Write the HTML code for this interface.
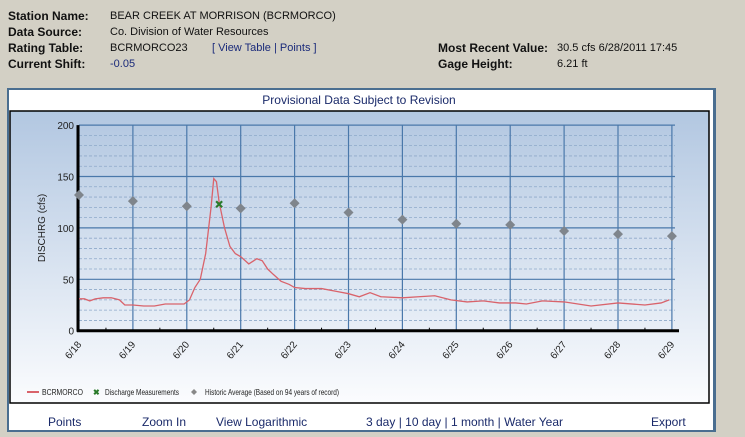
<!DOCTYPE html>
<html><head><meta charset="utf-8"><style>
body{margin:0;width:745px;height:437px;background:#d3d0c5;font-family:"DejaVu Sans","Liberation Sans",sans-serif;overflow:hidden;position:relative}
.t{position:absolute;font-size:11.5px;color:#111;white-space:nowrap}
.b{font-weight:bold;font-family:"Liberation Sans",sans-serif;font-size:12px}
.v{font-family:"Liberation Sans",sans-serif;font-size:11px;top:1px}
a{color:#1a2a7a}
.lk{position:absolute;top:415px;font-family:"Liberation Sans",sans-serif;font-size:12px;color:#1a2a6a}
</style></head><body>
<div class="t b" style="left:8px;top:9px">Station Name:</div>
<div class="t v" style="left:110px;top:10px">BEAR CREEK AT MORRISON (BCRMORCO)</div>
<div class="t b" style="left:8px;top:25px">Data Source:</div>
<div class="t v" style="left:110px;top:26px">Co. Division of Water Resources</div>
<div class="t b" style="left:8px;top:41px">Rating Table:</div>
<div class="t v" style="left:110px;top:42px">BCRMORCO23</div>
<div class="t v" style="left:212px;top:42px;color:#1a2a7a">[ View Table | Points ]</div>
<div class="t b" style="left:8px;top:57px">Current Shift:</div>
<div class="t v" style="left:110px;top:58px"><a>-0.05</a></div>
<div class="t b" style="left:438px;top:41px">Most Recent Value:</div>
<div class="t v" style="left:557px;top:42px">30.5 cfs 6/28/2011 17:45</div>
<div class="t b" style="left:438px;top:57px">Gage Height:</div>
<div class="t v" style="left:557px;top:58px">6.21 ft</div>

<div style="position:absolute;left:7px;top:88px;width:704px;height:340px;background:#fff;border:2px solid #4a6e90;border-right-width:3px"></div>
<div class="t v" style="left:0;width:718px;text-align:center;top:93px;font-size:12px;color:#1a2a6a">Provisional Data Subject to Revision</div>
<svg style="position:absolute;left:0;top:0" width="745" height="437" id="ch">
<defs><linearGradient id="g" x1="0" y1="0" x2="0" y2="1"><stop offset="0" stop-color="#b2c7e1"/><stop offset="1" stop-color="#fbfcfe"/></linearGradient></defs>
<rect x="10" y="111" width="699" height="292" fill="url(#g)" stroke="#000" stroke-width="1.5"/>
<g id="grid"></g><g id="marks"></g>
<text x="0" y="0" transform="translate(45,228) rotate(-90)" text-anchor="middle" font-family="Liberation Sans,sans-serif" font-size="10" fill="#222">DISCHRG (cfs)</text>
<g font-family="Liberation Sans,sans-serif" font-size="8.5" fill="#222">
<line x1="27" y1="392" x2="39" y2="392" stroke="#d9636b" stroke-width="2"/><text x="42" y="395" textLength="41" lengthAdjust="spacingAndGlyphs">BCRMORCO</text>
<text x="93" y="395" fill="#2a7a2a" font-weight="bold" font-size="8">✖</text><text x="105" y="395" textLength="74" lengthAdjust="spacingAndGlyphs">Discharge Measurements</text>
<path d="M194 389 L197 392 L194 395 L191 392Z" fill="#888"/><text x="205" y="395" textLength="134" lengthAdjust="spacingAndGlyphs">Historic Average (Based on 94 years of record)</text>
</g>
</svg>
<div class="lk" style="left:48px">Points</div>
<div class="lk" style="left:142px">Zoom In</div>
<div class="lk" style="left:216px">View Logarithmic</div>
<div class="lk" style="left:366px">3 day | 10 day | 1 month | Water Year</div>
<div class="lk" style="left:651px">Export</div>
<script>
const dayLabels=["6/18","6/19","6/20","6/21","6/22","6/23","6/24","6/25","6/26","6/27","6/28","6/29"];
const yTicks=[0,50,100,150,200];
const histAvg=[132,126,121,119,124,115,108,104,103,97,94,92];
const measDay=[2.6];
const measVal=[123];
const flowDay=[0,0.1,0.2,0.3,0.45,0.6,0.75,0.85,1.0,1.2,1.4,1.6,1.8,1.95,2.05,2.15,2.25,2.35,2.45,2.5,2.55,2.6,2.7,2.8,2.9,3.0,3.15,3.3,3.4,3.5,3.6,3.75,3.9,4.0,4.2,4.5,4.8,5.0,5.2,5.4,5.6,6.0,6.3,6.6,6.9,7.2,7.5,7.8,8.1,8.3,8.6,9.0,9.5,10.0,10.5,10.8,10.95];
const flowVal=[31,31,29,31,32,32,30,25,25,24,24,26,26,26,30,42,50,75,120,148,145,125,100,82,75,72,65,70,68,60,55,48,45,42,41,41,38,36,33,37,33,32,33,34,30,28,29,27,27,26,29,28,24,27,25,27,30];
const X=d=>79+d*53.9, Y=v=>330.7-v*1.028;
const ns="http://www.w3.org/2000/svg";
const grid=document.getElementById('grid'),marks=document.getElementById('marks');
function mk(t,a,p){const e=document.createElementNS(ns,t);for(const k in a)e.setAttribute(k,a[k]);(p||grid).appendChild(e);return e;}
for(let v=10;v<200;v+=10){if(v%50)mk('line',{x1:79,x2:675,y1:Y(v),y2:Y(v),stroke:'#8ea9c9','stroke-dasharray':'3,2','stroke-width':0.8});}
yTicks.forEach(v=>{const l=mk('line',{x1:79,x2:675,y1:Y(v),y2:Y(v),stroke:'#4a78aa','stroke-width':1.2});


const t=mk('text',{x:74,y:Y(v)+4,'text-anchor':'end','font-family':'Liberation Sans,sans-serif','font-size':10,fill:'#222'});t.textContent=v;

});
dayLabels.forEach((d,i)=>{mk('line',{x1:X(i),x2:X(i),y1:Y(200),y2:Y(0),stroke:'#4a78aa','stroke-width':1.2});
if(i<dayLabels.length-1)mk('line',{x1:X(i+0.5),x2:X(i+0.5),y1:Y(0),y2:Y(0)-3,stroke:'#000'});
const t=mk('text',{x:0,y:0,transform:`translate(${X(i)+3},${Y(0)+14}) rotate(-50)`,'text-anchor':'end','font-family':'Liberation Sans,sans-serif','font-size':10,fill:'#222'});t.textContent=d;

});
mk('line',{x1:78,x2:78,y1:Y(200),y2:Y(0)+1,stroke:'#000','stroke-width':3});
mk('line',{x1:77,x2:679,y1:Y(0),y2:Y(0),stroke:'#000','stroke-width':3});
const p=mk('polyline',{points:flowDay.map((d,i)=>X(d)+','+Y(flowVal[i])).join(' '),fill:'none',stroke:'#d9636b','stroke-width':1.3},marks);


histAvg.forEach((v,i)=>{const q=mk('path',{d:`M${X(i)} ${Y(v)-5}L${X(i)+5} ${Y(v)}L${X(i)} ${Y(v)+5}L${X(i)-5} ${Y(v)}Z`,fill:'#7f858c'},marks);

});
measDay.forEach((d,i)=>{const x=X(d),y=Y(measVal[i]);const q=mk('path',{d:`M${x-3} ${y-3}L${x+3} ${y+3}M${x+3} ${y-3}L${x-3} ${y+3}`,stroke:'#2a7a2a','stroke-width':2.2},marks);

});
</script>
</body></html>
